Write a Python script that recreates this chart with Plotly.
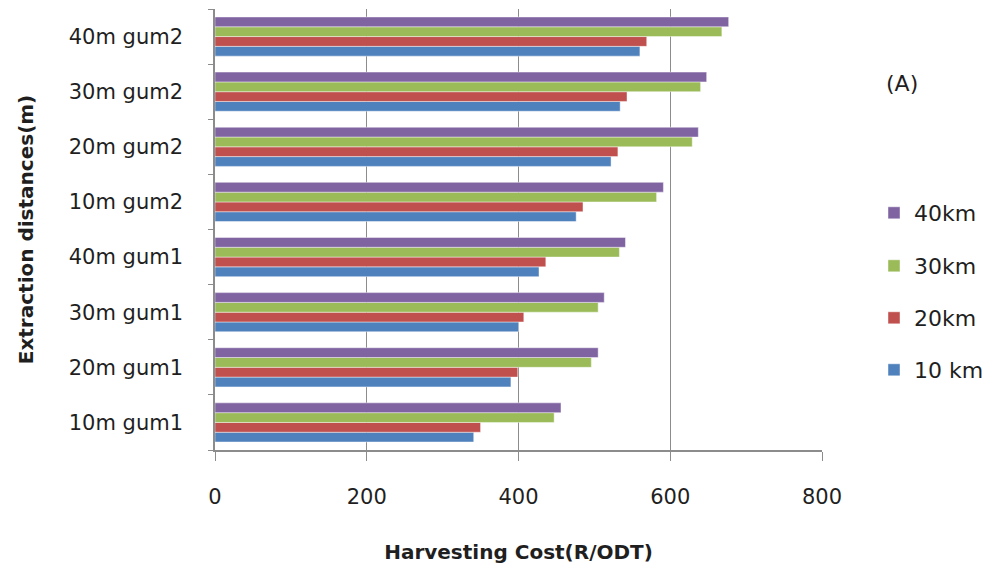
import plotly.graph_objects as go

categories = ["10m gum1", "20m gum1", "30m gum1", "40m gum1",
              "10m gum2", "20m gum2", "30m gum2", "40m gum2"]
series_names = ["10 km", "20km", "30km", "40km"]
cost_10km = [341, 390, 400, 427, 476, 522, 534, 560]
cost_20km = [350, 399, 407, 436, 485, 531, 543, 569]
cost_30km = [447, 496, 505, 533, 582, 629, 640, 668]
cost_40km = [456, 505, 513, 541, 591, 637, 648, 677]
series_values = [cost_10km, cost_20km, cost_30km, cost_40km]
series_colors = ["#4F81BD", "#C0504D", "#9BBB59", "#8064A2"]
x_ticks = [0, 200, 400, 600, 800]

FONT = "DejaVu Sans"
TEXT = "#1f1f1f"
AXIS = "#8c8c8c"

# plot-area geometry (pixels)
W, H = 987, 569
ML, MR, MT, MB = 215, 165, 9, 119
PW, PH = W - ML - MR, H - MT - MB


def paper_x(px):
    return (px - ML) / PW


def paper_y(py):
    return 1 - (py - MT) / PH


# one legend per series so the entries can be spaced out vertically
legend_ids = ["legend4", "legend3", "legend2", "legend"]
legend_rows = [370, 318, 266, 213]

fig = go.Figure()
for name, vals, col, lid in zip(series_names, series_values, series_colors, legend_ids):
    fig.add_trace(go.Bar(
        y=categories, x=vals, name=name, orientation="h",
        marker=dict(color=col, line=dict(color="rgba(255,255,255,0.55)", width=0.8)),
        legend=lid,
    ))

legend_layout = {}
for lid, row in zip(legend_ids, legend_rows):
    legend_layout[lid] = dict(
        x=paper_x(874), y=paper_y(row), xanchor="left", yanchor="middle",
        font=dict(family=FONT, size=22, color=TEXT), itemwidth=30,
        bgcolor="rgba(0,0,0,0)",
    )

fig.update_layout(
    width=W, height=H,
    margin=dict(l=ML, r=MR, t=MT, b=MB, autoexpand=False),
    paper_bgcolor="white", plot_bgcolor="white",
    barmode="group", bargap=0.29, bargroupgap=0,
    font=dict(family=FONT, size=17, color=TEXT),
    showlegend=True,
    xaxis=dict(
        range=[0, 800], tickvals=x_ticks, ticktext=[str(v) for v in x_ticks],
        showgrid=True, gridcolor=AXIS, gridwidth=1.2,
        showline=True, linecolor=AXIS, linewidth=1.5,
        ticks="outside", ticklen=9, tickcolor=AXIS, tickwidth=1.2,
        ticklabelstandoff=18, zeroline=False,
        tickfont=dict(family=FONT, size=21, color=TEXT),
        title=dict(text="<b>Harvesting Cost(R/ODT)</b>", standoff=37,
                   font=dict(family=FONT, size=20, color=TEXT)),
    ),
    yaxis=dict(
        categoryorder="array", categoryarray=categories,
        showline=True, linecolor=AXIS, linewidth=1.5,
        ticks="outside", ticklen=5, tickcolor=AXIS, tickson="boundaries",
        ticklabelstandoff=26, showgrid=False,
        tickfont=dict(family=FONT, size=21, color=TEXT),
        title=dict(text="<b>Extraction distances(m)</b>", standoff=30,
                   font=dict(family=FONT, size=20, color=TEXT)),
    ),
    annotations=[dict(text="(A)", x=paper_x(902), y=paper_y(83),
                      xref="paper", yref="paper", xanchor="center", yanchor="middle",
                      showarrow=False, font=dict(family=FONT, size=22, color=TEXT))],
    **legend_layout,
)

fig.write_html("out.html")
